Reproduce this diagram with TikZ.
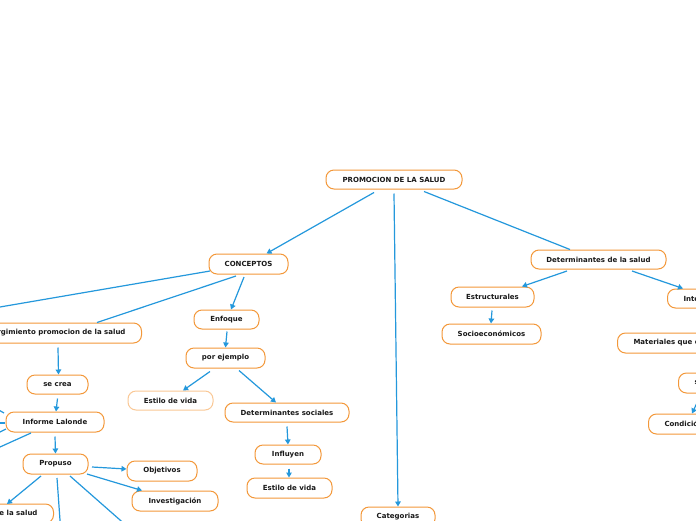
\documentclass[tikz,border=0pt]{standalone}
\usepackage{fontspec}
\setmainfont{DejaVu Sans}
\usetikzlibrary{arrows.meta,calc}
\definecolor{bord}{RGB}{243,152,58}
\definecolor{bordl}{RGB}{250,200,150}
\definecolor{link}{RGB}{36,152,220}
\definecolor{txt}{RGB}{25,25,25}
\begin{document}
\begin{tikzpicture}[x=1pt,y=-1pt,
  box/.style={draw=bord,line width=1pt,rounded corners=8pt,fill=white,inner sep=0pt,
    font=\fontsize{7}{8}\selectfont\bfseries,text=txt},
  sz/.style 2 args={minimum width=#1pt,minimum height=#2pt},
  edgebox/.style={box,inner xsep=16pt,minimum height=#1pt},
  lnk/.style={draw=link,line width=1.2pt},
  arr/.style={lnk,-{Triangle[length=5pt,width=5.5pt]}}]
\useasboundingbox (0,0) rectangle (696,520);
\clip (0,0) rectangle (696,520);
\fill[white] (0,0) rectangle (696,520);

% nodes
\node[box,sz={136}{19}] (P) at (394,179.5) {PROMOCION DE LA SALUD};
\node[box,sz={79}{20}] (C) at (248.5,264) {CONCEPTOS};
\node[box,sz={135}{19}] (D) at (598.5,259.5) {Determinantes de la salud};
\node[box,sz={74}{20}] (Cat) at (398,517) {Categorias};
\node[edgebox=20,anchor=east] (S) at (142,333) {Surgimiento promocion de la salud};
\node[box,sz={65}{19}] (E) at (226.5,319.5) {Enfoque};
\node[box,sz={79}{20}] (PE) at (225.5,358) {por ejemplo};
\node[box,draw=bordl,sz={85}{19}] (E1) at (170.5,400.5) {Estilo de vida};
\node[box,sz={124}{19}] (DS) at (287,412.5) {Determinantes sociales};
\node[box,sz={66}{19}] (Inf) at (288,454.5) {Influyen};
\node[box,sz={85}{20}] (E2) at (289.5,488) {Estilo de vida};
\node[box,sz={61}{19}] (SC) at (57.5,384.5) {se crea};
\node[box,sz={98}{20}] (IL) at (55,422) {Informe Lalonde};
\node[box,sz={65}{20}] (Pr) at (55.5,464) {Propuso};
\node[box,sz={70}{20}] (Obj) at (162,471) {Objetivos};
\node[box,sz={86}{20}] (Inv) at (175,501) {Investigación};
\node[edgebox=19,anchor=east] (Camp) at (54,513.5) {Campos de la salud};
\node[box,sz={83}{20}] (Es) at (492.5,297) {Estructurales};
\node[box,sz={99}{20}] (So) at (491.5,334) {Socioeconómicos};
\node[edgebox=19,anchor=west] (Int) at (667,298.5) {Intermedios};
\node[edgebox=20,anchor=west] (Mat) at (617,343) {Materiales que condicionan};
\node[edgebox=20,anchor=west] (son) at (678,383) {son};
\node[edgebox=20,anchor=west] (Cond) at (648,424) {Condición de vivienda};

% connectors
\draw[arr] ([shift={(-20,3)}]P.south) -- ([shift={(18,0)}]C.north);
\draw[arr] ([shift={(0,4)}]P.south) -- (Cat.north);
\draw[lnk] ([shift={(30,2)}]P.south) -- ([shift={(-28.5,0)}]D.north);

\coordinate (offC) at (-10,308.7);
\draw[lnk] ([shift={(-38.5,7)}]C.center) -- (offC);
\draw[lnk] ([shift={(-12.5,12)}]C.center) -- ([shift={(-45,0)}]S.north east);
\draw[arr] ([shift={(-4.5,13)}]C.center) -- ([shift={(4.5,0)}]E.north);

\draw[arr] ([shift={(0.5,2)}]E.south) -- (PE.north);
\draw[arr] ([shift={(-15.5,3)}]PE.south) -- ([shift={(12.5,0)}]E1.north);
\draw[arr] ([shift={(13.5,2)}]PE.south) -- ([shift={(-11,0)}]DS.north);
\draw[arr] ([shift={(0,4)}]DS.south) -- (Inf.north);
\draw[arr] ([shift={(1,4)}]Inf.south) -- ([shift={(-0.5,0)}]E2.north);

\draw[arr] ([shift={(-84,4)}]S.south east) -- ([shift={(1,0)}]SC.north);
\draw[arr] ([shift={(0,4)}]SC.south) -- ([shift={(1,0)}]IL.north);
\draw[arr] ([shift={(0,4)}]IL.south) -- (Pr.north);

\coordinate (offA) at (-10,405);
\coordinate (offB) at (-10,423);
\coordinate (offD) at (-10,437);
\coordinate (offE) at (-10,451.5);
\draw[lnk] ([shift={(-51,-9)}]IL.center) -- (offA);
\draw[lnk] ([shift={(-50,1)}]IL.center) -- (offB);
\draw[lnk] ([shift={(-49,7)}]IL.center) -- (offD);
\draw[lnk] ([shift={(-24,11)}]IL.center) -- (offE);

\draw[arr] ([shift={(36.5,3)}]Pr.center) -- ([shift={(0,-2)}]Obj.west);
\draw[arr] ([shift={(31.5,10)}]Pr.center) -- ([shift={(-33,0)}]Inv.north);
\draw[arr] ([shift={(-14.5,12)}]Pr.center) -- ([shift={(-47,-9.5)}]Camp.east);
\coordinate (offF) at (60.7,530);
\coordinate (offG) at (131.4,530);
\draw[lnk] ([shift={(1.5,14)}]Pr.center) -- (offF);
\draw[lnk] ([shift={(14.5,12)}]Pr.center) -- (offG);

\draw[arr] ([shift={(-31.5,11.5)}]D.center) -- ([shift={(29.5,0)}]Es.north);
\draw[arr] ([shift={(33.5,11.5)}]D.center) -- ([shift={(16,0)}]Int.north west);
\draw[arr] ([shift={(-0.5,3)}]Es.south) -- ([shift={(-0.5,0)}]So.north);
\draw[arr] ([shift={(22,3)}]son.south west) -- ([shift={(44,0)}]Cond.north west);
\end{tikzpicture}
\end{document}
